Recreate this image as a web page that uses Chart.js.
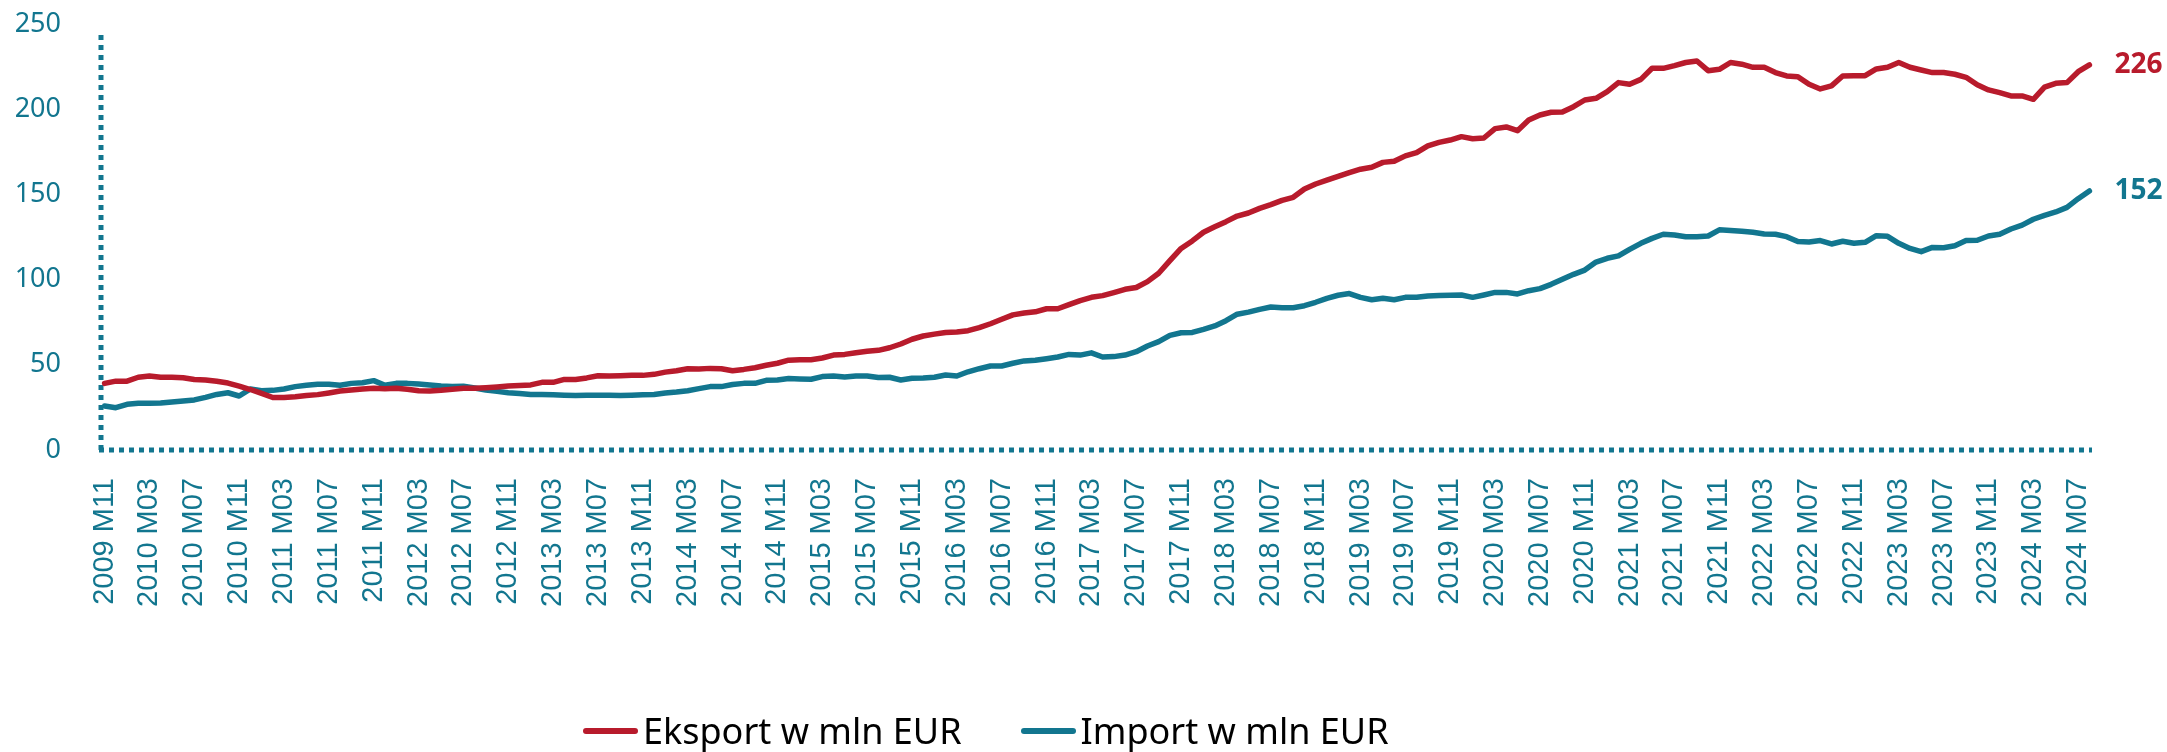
<!DOCTYPE html>
<html>
<head>
<meta charset="utf-8">
<script src="https://cdn.jsdelivr.net/npm/chart.js@4.4.1/dist/chart.umd.min.js"></script>
<style>
  body { margin: 0; background: #fff; }
  .wrap { position: relative; width: 2167px; height: 752px; }
  .legend { position: absolute; left: 583px; top: 711px; height: 40px; display: flex; align-items: center;
    font-family: "Noto Sans", sans-serif; font-size: 36px; line-height: 40px; color: #000; white-space: nowrap; }
  .legend .mark { display: inline-block; width: 55px; height: 6px; border-radius: 3px; margin-right: 5px; }
  .legend .item { display: flex; align-items: center; }
  .legend .item + .item { margin-left: 59px; }
</style>
</head>
<body>
<div class="wrap">
  <canvas id="chart"></canvas>
  <div class="legend" id="legend"></div>
</div>
<script>
const TEAL = "#12768F";
const RED = "#B81B2C";

// monthly, 2009 M11 .. 2024 M08
const startYear = 2009;
const startMonth = 11;
const monthCount = 178;

const eksport = [
  39.1, 40.4, 40.4, 42.7, 43.4, 42.7, 42.7, 42.4, 41.4, 41.1,
  40.3, 39.3, 37.5, 35.5, 33.2, 30.8, 30.8, 31.3, 32.0, 32.5,
  33.5, 34.6, 35.2, 35.8, 36.2, 36.0, 36.2, 35.6, 34.8, 34.6,
  35.0, 35.6, 36.2, 36.2, 36.6, 37.0, 37.5, 37.8, 38.2, 39.7,
  39.7, 41.4, 41.4, 42.3, 43.6, 43.4, 43.6, 43.8, 43.8, 44.4,
  45.7, 46.5, 47.7, 47.5, 47.9, 47.7, 46.5, 47.3, 48.3, 49.7,
  50.9, 52.7, 53.0, 53.0, 54.0, 55.7, 56.1, 57.1, 57.9, 58.5,
  60.0, 62.2, 65.0, 66.9, 68.0, 69.0, 69.2, 70.0, 71.8, 74.1,
  76.7, 79.3, 80.4, 81.1, 82.9, 82.9, 85.3, 87.7, 89.6, 90.6,
  92.4, 94.3, 95.4, 98.8, 103.7, 111.1, 118.3, 122.7, 127.8, 131.0,
  134.0, 137.3, 139.1, 141.8, 144.0, 146.5, 148.3, 153.2, 156.1, 158.4,
  160.6, 162.8, 164.8, 165.9, 168.8, 169.4, 172.6, 174.5, 178.5, 180.5,
  181.9, 183.9, 182.7, 183.1, 188.6, 189.6, 187.4, 193.6, 196.6, 198.2,
  198.4, 201.5, 205.4, 206.4, 210.3, 215.6, 214.6, 217.5, 224.0, 224.0,
  225.6, 227.4, 228.3, 222.6, 223.4, 227.4, 226.4, 224.6, 224.6, 221.5,
  219.5, 219.1, 214.6, 211.9, 213.7, 219.5, 219.7, 219.7, 223.6, 224.6,
  227.4, 224.6, 223.0, 221.5, 221.5, 220.5, 218.7, 214.3, 211.3, 209.7,
  207.8, 207.8, 205.8, 212.9, 215.2, 215.6, 222.0, 226.0
];

const importVals = [
  25.8, 24.8, 26.8, 27.4, 27.4, 27.6, 28.2, 28.8, 29.4, 30.9,
  32.6, 33.6, 31.7, 35.8, 34.8, 35.0, 35.8, 37.2, 38.0, 38.6,
  38.6, 38.0, 39.1, 39.5, 40.7, 38.0, 39.1, 39.1, 38.7, 38.2,
  37.5, 37.2, 37.4, 36.4, 35.2, 34.4, 33.6, 33.2, 32.6, 32.6,
  32.4, 32.2, 32.0, 32.2, 32.2, 32.2, 32.0, 32.2, 32.4, 32.6,
  33.4, 34.0, 34.8, 36.0, 37.2, 37.2, 38.4, 39.1, 39.1, 40.9,
  41.1, 41.9, 41.7, 41.5, 43.1, 43.4, 42.9, 43.4, 43.4, 42.5,
  42.7, 41.1, 42.1, 42.3, 42.7, 44.0, 43.4, 45.9, 47.7, 49.3,
  49.3, 50.9, 52.3, 52.7, 53.6, 54.6, 56.1, 55.7, 57.0, 54.6,
  54.8, 55.7, 57.7, 61.0, 63.6, 67.3, 68.8, 69.0, 70.8, 72.8,
  75.9, 79.7, 80.9, 82.5, 83.9, 83.5, 83.5, 84.7, 86.7, 89.0,
  90.8, 91.8, 89.6, 88.2, 89.0, 88.2, 89.6, 89.6, 90.4, 90.6,
  90.8, 91.0, 89.6, 91.0, 92.5, 92.5, 91.6, 93.5, 94.7, 97.2,
  100.2, 103.1, 105.6, 110.3, 112.5, 113.9, 117.7, 121.3, 124.2, 126.6,
  126.2, 125.2, 125.2, 125.6, 129.2, 128.8, 128.4, 127.8, 126.8, 126.6,
  125.2, 122.3, 122.1, 122.9, 120.9, 122.5, 121.3, 121.9, 125.8, 125.4,
  121.3, 118.3, 116.4, 118.9, 118.7, 119.9, 122.9, 123.1, 125.6, 126.6,
  129.7, 132.0, 135.4, 137.7, 139.7, 142.4, 147.5, 152.0
];

const seriesNames = ["Eksport w mln EUR", "Import w mln EUR"];
const yTicks = [0, 50, 100, 150, 200, 250];

const labels = [];
for (let y = startYear, m = startMonth; labels.length < monthCount; ) {
  labels.push(y + " M" + String(m).padStart(2, "0"));
  m++;
  if (m > 12) { m = 1; y++; }
}

// dotted axis lines (Chart.js border has no dash of its own)
const dottedAxes = {
  id: "dottedAxes",
  beforeDatasetsDraw(chart) {
    const { ctx, chartArea: a } = chart;
    ctx.save();
    ctx.strokeStyle = TEAL;
    ctx.lineWidth = 5;
    ctx.lineCap = "butt";
    ctx.setLineDash([5, 5]);
    ctx.beginPath();
    ctx.moveTo(a.left + 2, a.bottom);
    ctx.lineTo(a.left + 2, a.top + 8);
    ctx.moveTo(a.left, a.bottom);
    ctx.lineTo(a.right - 3, a.bottom);
    ctx.stroke();
    ctx.restore();
  },
};

// last value printed at the end of each line
const endLabels = {
  id: "endLabels",
  afterDatasetsDraw(chart) {
    const ctx = chart.ctx;
    ctx.save();
    ctx.font = "bold 28px 'Noto Sans', sans-serif";
    ctx.textBaseline = "middle";
    ctx.textAlign = "left";
    chart.data.datasets.forEach((ds, i) => {
      const meta = chart.getDatasetMeta(i);
      const pt = meta.data[meta.data.length - 1];
      ctx.fillStyle = ds.borderColor;
      ctx.fillText(Math.round(ds.data[ds.data.length - 1]), pt.x + 25, pt.y);
    });
    ctx.restore();
  },
};

new Chart(document.getElementById("chart"), {
  type: "line",
  data: {
    labels: labels,
    datasets: [
      { label: seriesNames[0], data: eksport, borderColor: RED },
      { label: seriesNames[1], data: importVals, borderColor: TEAL },
    ],
  },
  options: {
    responsive: true,
    maintainAspectRatio: false,
    animation: false,
    layout: { padding: { top: 24, right: 72, left: 0, bottom: 0 } },
    elements: {
      line: { borderWidth: 5.5, tension: 0, borderCapStyle: "round", borderJoinStyle: "round" },
      point: { radius: 0 },
    },
    plugins: {
      legend: { display: false },
      tooltip: { enabled: false },
    },
    scales: {
      x: {
        offset: true,
        grid: { display: false },
        border: { display: false },
        afterFit(scale) {
          scale.height = 302;
          scale.paddingLeft = 0;
          scale.paddingRight = 0;
        },
        ticks: {
          autoSkip: false,
          minRotation: 90,
          maxRotation: 90,
          padding: 20,
          color: TEAL,
          font: { family: "'Liberation Sans', Arial, sans-serif", size: 29 },
          callback: (v, i) => (i % 4 === 0 ? labels[i] : null),
        },
      },
      y: {
        min: 0,
        max: 250,
        grid: { display: false },
        border: { display: false },
        afterFit(scale) {
          scale.width = 99;
          scale.paddingTop = 0;
          scale.paddingBottom = 0;
        },
        afterBuildTicks(scale) { scale.ticks = yTicks.map((v) => ({ value: v })); },
        ticks: {
          padding: 30,
          color: TEAL,
          font: { family: "'Noto Sans', sans-serif", size: 27 },
        },
      },
    },
  },
  plugins: [dottedAxes, endLabels],
});

const legend = document.getElementById("legend");
[RED, TEAL].forEach((c, i) => {
  const item = document.createElement("span");
  item.className = "item";
  item.innerHTML = '<span class="mark" style="background:' + c + '"></span><span>' + seriesNames[i] + "</span>";
  legend.appendChild(item);
});
</script>
</body>
</html>
